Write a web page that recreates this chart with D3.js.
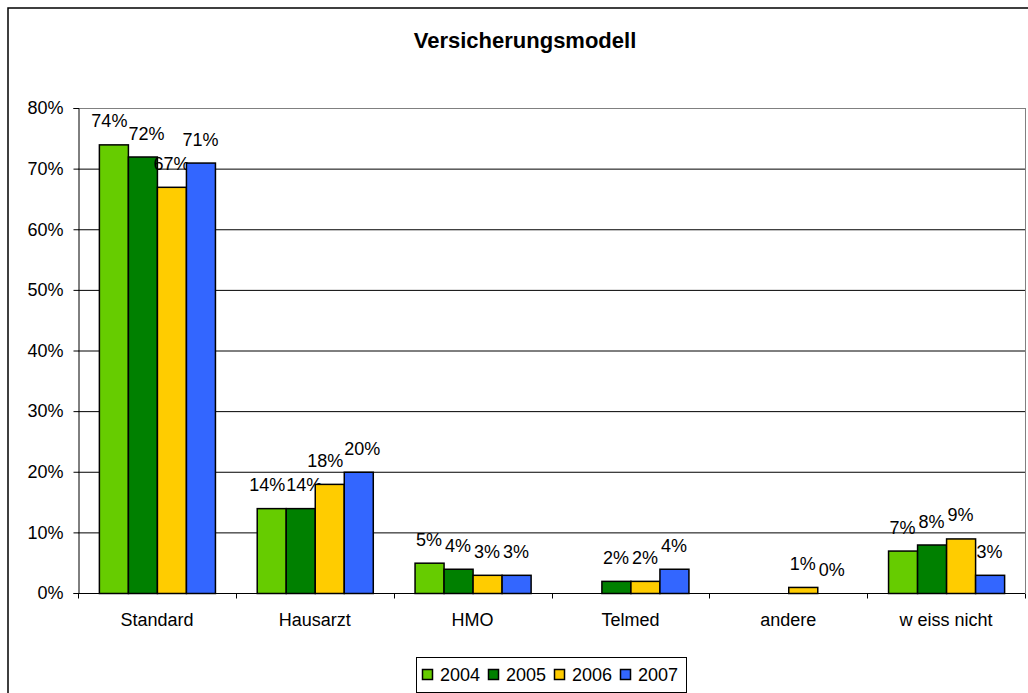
<!DOCTYPE html>
<html><head><meta charset="utf-8">
<script src="https://cdn.jsdelivr.net/npm/d3@7"></script>
<style>body{margin:0;background:#fff}svg{display:block;font-family:"Liberation Sans",Arial,sans-serif}</style>
</head><body>
<script>
const categories = ["Standard","Hausarzt","HMO","Telmed","andere","w eiss nicht"];
const seriesNames = ["2004","2005","2006","2007"];
const colors = ["#66CC00","#008000","#FFCC00","#3366FF"];
const v2004 = [74,14,5,null,null,7];
const v2005 = [72,14,4,2,null,8];
const v2006 = [67,18,3,2,1,9];
const v2007 = [71,20,3,4,0,3];
const yTicks = [0,10,20,30,40,50,60,70,80];
const series = [v2004,v2005,v2006,v2007];

const W=1028,H=693;
const svg=d3.select("body").append("svg").attr("width",W).attr("height",H);
svg.append("rect").attr("x",8).attr("y",8).attr("width",1030).attr("height",700).attr("fill","#fff").attr("stroke","#000").attr("stroke-width",1.5);
svg.append("text").attr("x",525).attr("y",48).attr("text-anchor","middle").attr("font-weight","bold").attr("font-size",22).text("Versicherungsmodell");

const L=78,R=1025,T=108,B=593;
const FS=18;
const x=d3.scaleBand().domain(categories).range([L,R]);
const y=d3.scaleLinear().domain([0,80]).range([B,T]);
const xs=d3.scaleBand().domain(seriesNames).range([0,x.bandwidth()]).paddingOuter(0.72).paddingInner(0);
svg.append("g").selectAll("line").data(yTicks.filter(d=>d>0)).join("line")
 .attr("x1",L).attr("x2",R).attr("y1",d=>y(d)+0.5).attr("y2",d=>y(d)+0.5).attr("stroke","#000").attr("stroke-width",1);
svg.append("line").attr("x1",R+0.5).attr("x2",R+0.5).attr("y1",T).attr("y2",B).attr("stroke","#808080");
svg.append("line").attr("x1",L).attr("x2",R).attr("y1",T+0.5).attr("y2",T+0.5).attr("stroke","#808080");
const g=svg.append("g");
const labelsByCat=categories.map(()=>[]);
series.forEach((vals,si)=>{
  vals.forEach((v,ci)=>{
    if(v===null) return;
    const bx=x(categories[ci])+xs(seriesNames[si]);
    if(v>0) g.append("rect").attr("x",bx+0.5).attr("y",y(v)+0.5).attr("width",xs.bandwidth()).attr("height",B-y(v)).attr("fill",colors[si]).attr("stroke","#000").attr("stroke-width",1.5);
    const t=g.append("text").attr("x",bx+xs.bandwidth()/2).attr("y",y(v)-17).attr("text-anchor","middle").attr("font-size",FS).attr("fill","#000").text(v+"%");
    labelsByCat[ci].push({t,cx:bx+xs.bandwidth()/2,y:y(v)-17,w:t.node().getComputedTextLength()});
  });
});
// simple overlap avoidance between neighbouring labels
labelsByCat.forEach(ls=>{
  for(let it=0;it<20;it++){
    for(let i=0;i<ls.length-1;i++){
      const a=ls[i],b=ls[i+1];
      if(Math.abs(a.y-b.y)<FS){
        const ov=(a.cx+a.w/2+1)-(b.cx-b.w/2);
        if(ov>0){a.cx-=ov/2;b.cx+=ov/2;}
      }
    }
  }
  ls.forEach(l=>l.t.attr("x",l.cx));
});
const ya=d3.axisLeft(y).tickValues(yTicks).tickFormat(d=>d+"%").tickSize(5).tickPadding(10);
svg.append("g").attr("transform",`translate(${L+0.5},0)`).call(ya).call(s=>{s.selectAll("text").attr("font-size",FS).attr("font-family",null).attr("fill","#000");s.select(".domain").attr("stroke","#000");s.selectAll("line").attr("stroke","#000");});
const xa=d3.axisBottom(x).tickSize(0).tickPadding(0);
const xg=svg.append("g").attr("transform",`translate(0,${B+0.5})`).call(xa);
xg.select(".domain").attr("stroke","#000").attr("d",`M${L},0H${R}`);
xg.selectAll(".tick text").attr("font-size",FS).attr("font-family",null).attr("fill","#000").attr("dy",0).attr("y",32);
xg.selectAll(".sep").data(d3.range(categories.length+1)).join("line").attr("class","sep")
 .attr("x1",i=>Math.round(L+i*x.step())+0.5).attr("x2",i=>Math.round(L+i*x.step())+0.5).attr("y1",0).attr("y2",5).attr("stroke","#000");
const lg=svg.append("g");
lg.append("rect").attr("x",416.5).attr("y",657.5).attr("width",270).attr("height",35).attr("fill","#fff").attr("stroke","#000");
seriesNames.forEach((n,i)=>{
  const lx=422+i*66;
  lg.append("rect").attr("x",lx+0.5).attr("y",669.5).attr("width",10).attr("height",10).attr("fill",colors[i]).attr("stroke","#000").attr("stroke-width",1.5);
  lg.append("text").attr("x",lx+18).attr("y",681).attr("font-size",FS).text(n);
});
</script>
</body></html>
